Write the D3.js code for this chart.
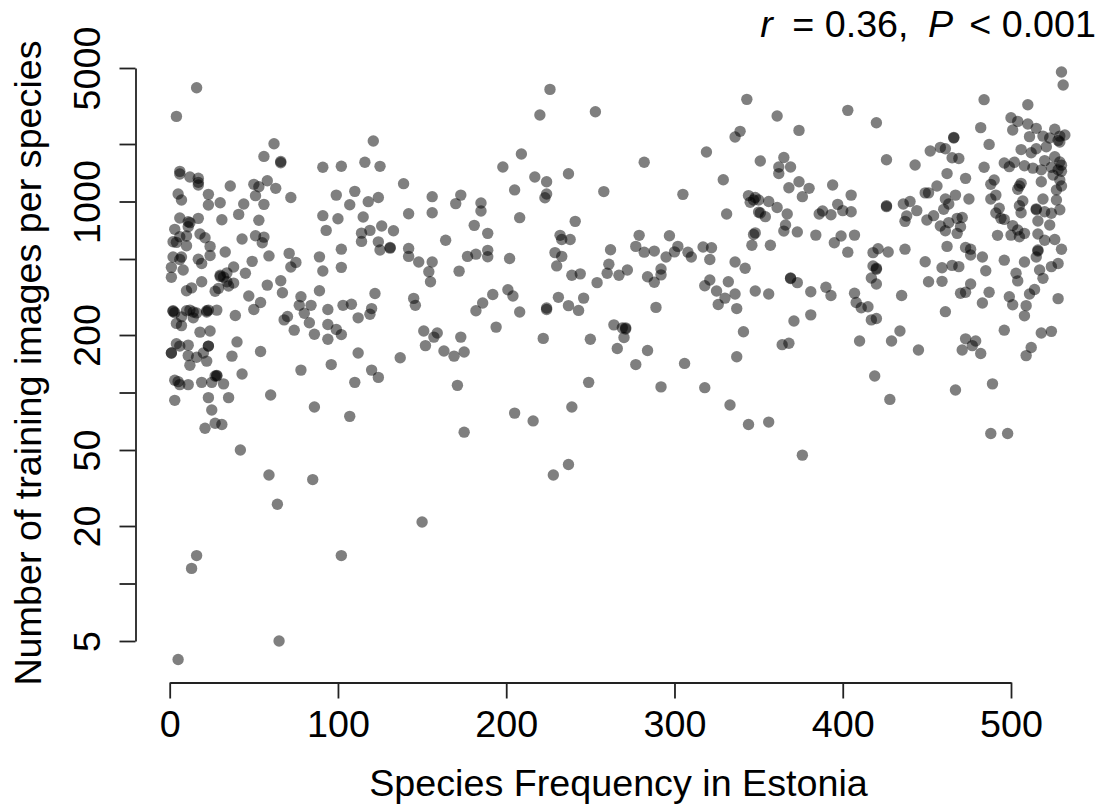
<!DOCTYPE html>
<html>
<head>
<meta charset="utf-8">
<script src="https://cdn.jsdelivr.net/npm/d3@7"></script>
<style>
body { margin: 0; background: #fff; }
text { font-family: "Liberation Sans", Arial, sans-serif; fill: #000; }
</style>
</head>
<body>
<svg id="chart" width="1107" height="805"></svg>
<script>
const xTicks = [0, 100, 200, 300, 400, 500]
const yTicks = [5000, 2000, 1000, 500, 200, 100, 50, 20, 10, 5]
const yLabelled = [5000, 1000, 200, 50, 20, 5]

const xTitle = "Species Frequency in Estonia"
const yTitle = "Number of training images per species"

// species frequency
const frequency = [
  16,4,62,121,56,66,66,91,102,116,
  125,6,6,12,17,17,17,36,50,53,
  58,63,139,5,7,23,23,30,44,51,
  56,72,99,110,107,118,124,156,156,142,
  6,17,11,12,11,31,41,53,91,100,
  115,3,6,10,18,21,24,2,4,10,
  43,51,56,55,93,114,119,126,133,114,
  124,125,131,131,142,142,164,2,7,6,
  17,19,24,33,59,71,75,72,49,89,
  102,102,91,148,156,154,1,8,1,38,
  45,30,30,34,32,34,38,35,19,10,
  13,27,29,58,66,67,47,54,78,89,
  122,145,146,155,
  2,2,3,7,10,12,14,16,14,22,
  22,23,28,39,50,77,84,80,94,103,
  108,120,119,112,70,68,83,94,74,86,
  99,102,94,4,7,18,24,151,159,157,
  152,163,4,6,11,23,23,40,1,1,
  11,16,20,22,37,54,12,112,137,78,
  96,120,124,28,28,27,3,5,6,11,
  19,25,32,43,110,60,3,23,35,25,
  86,107,27,31,21,42,59,85,64,150,
  16,13,102,65,5,
  226,220,253,343,339,336,319,209,198,282,
  217,224,237,329,205,224,223,258,305,173,
  170,185,185,208,241,331,181,189,232,233,
  238,279,297,277,282,288,295,300,302,308,
  310,317,322,321,262,229,233,230,189,189,
  177,182,202,172,336,342,261,260,267,272,
  254,239,244,284,292,292,288,321,318,332,
  325,330,336,348,201,204,192,186,231,237,
  246,224,344,345,348,350,350,348,347,346,
  347,
  182,208,224,243,289,326,337,194,173,175,
  169,171,222,250,264,269,271,271,270,266,
  284,277,306,337,341,249,292,318,239,333,
  344,205,216,175,237,228,
  361,374,403,420,484,510,530,531,500,504,
  510,515,501,526,482,466,466,511,519,523,
  532,529,528,529,487,452,458,461,506,515,
  512,521,465,469,520,526,529,530,426,443,
  351,365,362,362,369,484,496,502,499,508,
  513,518,524,528,530,525,462,473,490,488,
  518,529,530,527,506,505,504,374,368,380,
  376,394,405,456,449,451,467,461,491,488,
  475,519,527,507,463,460,436,440,505,493,
  491,515,515,506,520,524,529,356,361,367,
  351,354,397,400,405,388,386,393,426,426,
  444,438,437,454,450,471,468,494,496,516,
  523,366,365,373,384,399,407,395,470,458,
  463,461,468,501,504,500,505,508,492,516,
  520,526,357,462,437,421,418,427,403,473,
  476,476,483,516,516,515,530,449,496,508,
  459,465,469,418,420,420,528,524,517,485,
  369,369,373,417,420,503,504,519,451,459,
  476,390,393,381,356,407,435,487,470,473,
  514,511,499,528,483,501,509,408,411,415,
  417,420,461,508,381,371,364,368,410,429,
  434,445,473,479,477,471,482,496,518,524,
  512,509,419,467,489,428,356,376,488,498
]

// training images per species, same order as frequency
const images = [
  3940,2790,2008,2074,1722,1596,1620,1510,1530,1604,
  1528,1438,1393,1344,1323,1260,1220,1205,1230,1195,
  1285,1172,1240,1094,1018,1090,958,985,970,1073,
  966,1050,1080,1130,962,998,1050,1060,873,863,
  820,816,784,775,738,803,856,797,843,813,
  830,715,654,660,676,646,582,616,611,587,
  636,662,651,608,706,683,706,744,703,618,
  615,557,575,570,568,516,627,512,512,497,
  499,474,522,544,519,535,480,454,486,513,
  563,452,433,482,482,429,452,438,401,454,
  421,411,405,423,402,380,374,361,380,341,
  353,339,351,365,385,333,320,296,317,341,
  330,311,286,380,
  268,266,262,249,268,270,264,261,246,268,
  264,270,270,253,272,286,286,260,272,286,
  290,275,257,246,250,240,232,227,212,202,
  214,201,190,230,224,207,210,210,205,195,
  176,165,180,175,177,175,175,184,161,161,
  156,153,161,146,155,164,139,161,152,131,
  140,131,120,123,122,122,116,114,110,110,
  113,113,111,125,113,97,91,94,94,81,
  84,75,69,68,65,50,37,35,26,21,
  14,12,14,5,4,
  3864,2836,2953,3426,2330,2176,1815,1772,1516,1604,
  1344,1270,1397,1300,1150,1094,1047,1127,1090,1080,
  975,983,892,823,787,860,750,681,665,633,
  633,665,662,582,543,550,512,545,582,543,
  512,578,573,497,559,540,516,460,555,514,
  516,530,503,432,482,447,469,421,411,438,
  376,411,418,404,443,413,378,388,362,380,
  340,312,328,340,345,320,326,294,315,285,
  312,277,1074,990,1050,1018,880,685,672,590,
  1018,
  268,264,272,269,279,289,275,220,195,163,
  155,109,192,190,226,218,218,215,194,170,
  166,140,142,154,208,113,107,106,84,86,
  68,78,71,62,42,37,
  2803,2357,3001,2585,3413,3212,4764,4072,2747,2627,
  2544,2416,2366,2390,2436,2167,2150,2186,2200,2150,
  2228,2200,2090,2050,1990,1838,1920,1890,1870,1890,
  1800,1935,1696,1680,1637,1715,1610,1550,1654,1553,
  1630,1700,1516,1400,1516,1510,1590,1605,1522,1540,
  1495,1465,1510,1465,1440,1375,1400,1322,1295,1230,
  1270,1295,1205,1150,1245,1205,1160,1270,1180,1172,
  1060,1220,1080,1205,1110,1110,1080,1030,1080,1030,
  1030,1030,1018,1006,970,910,970,1000,950,922,
  870,915,905,873,883,868,905,1000,930,860,
  870,833,966,896,883,892,860,853,950,940,
  896,840,787,843,800,825,816,816,806,790,
  753,753,700,693,667,660,667,608,738,744,
  775,703,681,748,709,667,654,681,665,676,
  627,633,590,582,563,566,540,544,543,575,
  563,525,512,557,550,512,562,484,493,482,
  450,463,456,460,447,442,474,456,438,434,
  398,395,376,398,370,421,384,396,380,382,
  370,356,322,337,328,331,322,335,331,335,
  346,328,317,310,294,288,285,296,278,281,
  240,244,265,252,255,237,178,181,186,186,
  210,167,191,186,176,167,160,212,205,209,
  172,156,122,103,111,92,70,47,61,61
]

const points = d3.zip(frequency, images)

const svg = d3.select("#chart")

const fontSize = "37.7px"

const x = d3.scaleLinear()
  .domain([0, 500])
  .range([169.7, 1011])

const y = d3.scaleLog()
  .domain([5, 5000])
  .range([641, 68])

// points first, semi transparent black like R's rgb(0,0,0,.5)
svg.append("g")
  .selectAll("circle")
  .data(points)
  .enter().append("circle")
  .attr("cx", d => x(d[0]))
  .attr("cy", d => y(d[1]))
  .attr("r", 5.7)
  .attr("fill", "#000")
  .attr("fill-opacity", 0.5)

const xAxis = svg.append("g")
  .attr("transform", "translate(0,682.5)")
  .call(d3.axisBottom(x).tickValues(xTicks).tickSize(16).tickSizeOuter(0).tickPadding(11.5))

xAxis.selectAll("text").style("font-size", fontSize)

const yAxis = svg.append("g")
  .attr("transform", "translate(135.5,0)")
  .call(d3.axisLeft(y)
    .tickValues(yTicks)
    .tickSize(16)
    .tickSizeOuter(0)
    .tickFormat(d => yLabelled.includes(d) ? d : ""))

yAxis.selectAll("text")
  .style("font-size", fontSize)
  .attr("text-anchor", "middle")
  .attr("dy", 0)
  .attr("x", 0)
  .attr("y", 0)
  .attr("transform", "translate(-35.5,0) rotate(-90)")

svg.selectAll(".domain, .tick line")
  .attr("stroke", "#222")
  .attr("stroke-width", 1.8)

svg.append("text")
  .attr("x", 618.5)
  .attr("y", 796)
  .attr("text-anchor", "middle")
  .style("font-size", fontSize)
  .text(xTitle)

svg.append("text")
  .attr("transform", "translate(41,363) rotate(-90)")
  .attr("text-anchor", "middle")
  .style("font-size", fontSize)
  .text(yTitle)

const stat = svg.append("text")
  .attr("x", 1096)
  .attr("y", 37)
  .attr("text-anchor", "end")
  .style("font-size", fontSize)

stat.append("tspan").style("font-style", "italic").text("r")
stat.append("tspan").attr("dx", 19.5).text("= 0.36,")
stat.append("tspan").attr("dx", 19.5).style("font-style", "italic").text("P")
stat.append("tspan").attr("dx", 16).text("< 0.001")
</script>
</body>
</html>
